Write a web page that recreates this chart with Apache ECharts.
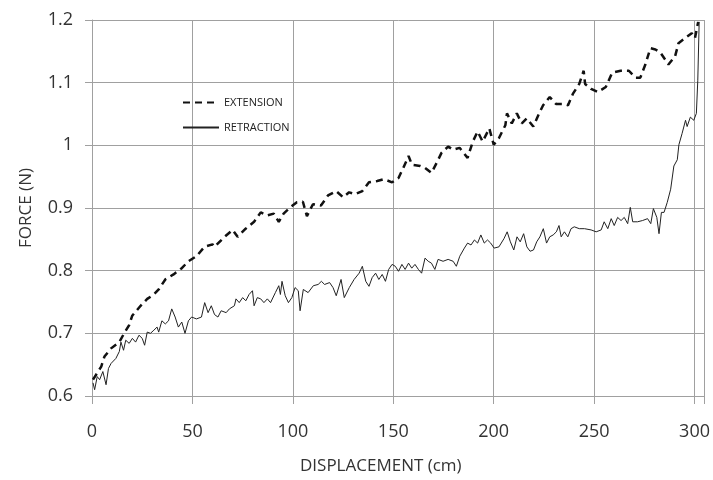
<!DOCTYPE html>
<html>
<head>
<meta charset="utf-8">
<script src="https://cdn.jsdelivr.net/npm/echarts@6/dist/echarts.min.js"></script>
<style>
  html, body { margin: 0; padding: 0; background: #fff; }
  #chart { width: 713px; height: 480px; }
</style>
</head>
<body>
<div id="chart"></div>
<script>
// extension (dashed) - displacement / force
const extX = [0.5, 4.6, 6.2, 9.5, 13.6, 16, 18.5, 20, 24.2, 27.5, 30.8, 33.2, 36.5, 40.6, 44.7, 48, 52, 56, 60,
  61, 66, 70, 72.5, 76.5, 80.7, 84, 87.2, 90.5, 93, 95.4, 98.7, 102, 105, 107, 110, 114, 117.5, 121.6,
  125, 128, 131, 134.6, 137.9, 142, 145.3, 149.4, 152.6, 155, 157.6, 159.3, 163.4, 165.8, 169, 171.6, 174, 177.3, 179.8, 183,
  187, 189.6, 192, 194.5, 197.8, 200, 202.5, 205.8, 206.6, 209, 211.5, 214, 216.5, 219.7, 222.2, 224.6, 227.9, 231, 234.5, 237, 239.4, 242.6, 244.8,
  245.5, 248.5, 251.8, 255.8, 259, 263.2, 267.3, 270.5, 273, 275.5, 278, 280.5, 283, 287, 290.3, 292, 295.3, 298.6, 300.2, 301.8];
const extY = [0.626, 0.647, 0.663, 0.676, 0.686, 0.700, 0.713, 0.728, 0.744, 0.755, 0.762, 0.770, 0.786, 0.794, 0.804, 0.815, 0.823, 0.838, 0.842,
  0.838, 0.854, 0.865, 0.854, 0.867, 0.878, 0.893, 0.888, 0.891, 0.878, 0.891, 0.901, 0.909, 0.910, 0.887, 0.906, 0.904, 0.920, 0.927,
  0.917, 0.925, 0.922, 0.927, 0.941, 0.943, 0.946, 0.941, 0.948, 0.964, 0.983, 0.969, 0.967, 0.964, 0.956, 0.972, 0.988, 0.998, 0.993, 0.996,
  0.980, 1.006, 1.022, 1.006, 1.027, 1.001, 1.011, 1.032, 1.051, 1.035, 1.051, 1.035, 1.043, 1.030, 1.048, 1.064, 1.077, 1.066, 1.066, 1.064, 1.082, 1.098, 1.119,
  1.098, 1.090, 1.085, 1.093, 1.116, 1.119, 1.119, 1.108, 1.108, 1.129, 1.155, 1.153, 1.148, 1.129, 1.142, 1.163, 1.171, 1.179, 1.171, 1.197];

// retraction (solid)
const retX = [0.5, 1.3, 2.6, 3.8, 5.4, 7, 8.2, 9.5, 11.9, 13.6, 14.4, 15.7, 16.8, 18.5, 20.1, 21.7, 23.4, 25, 26.2, 27.5, 29.1, 30.8, 32.4, 33.2, 34.8, 36.5, 38.1, 39.7, 41.4, 43, 44.7, 46.3, 48, 49.6, 52, 54.5, 56.1, 57.8, 59.4,
  61, 62.7, 64.3, 66.8, 68.4, 70.9, 71.7, 73.3, 75, 76.6, 78.2, 79.9, 80.7, 82.3, 84, 85.6, 87.3, 88.9, 91.3, 93, 93.8, 94.6, 96.2, 97.8, 99.5, 101.1, 102.7, 103.6, 105.2, 107.6, 110.2, 112.6, 114.2, 115.8, 118.3, 120, 121.6,
  124, 125.6, 128.1, 130.5, 133, 134.6, 136.3, 137.9, 139.5, 141.2, 142.8, 144.5, 146.1, 147.7, 149.4, 151, 152.6, 154.3, 155.9, 157.6, 159.2, 160.8, 162.5, 164.1, 165.8, 167.4, 169, 170.7, 172.3, 174.8, 177.3, 179.8, 181.4, 183.1,
  185.4, 187, 188.7, 190.4, 192, 193.6, 195.3, 196.9, 198.5, 200.2, 202.6, 205.1, 206.7, 208.3, 210, 211.6, 213.2, 214.9, 216.5, 218.1, 219.8, 221.4, 223, 224.7, 226.3, 227.9, 229.6, 231.2, 232.5, 233.6, 235.2, 236.9, 238.5, 240.1, 242.6,
  245.2, 248.5, 251, 253.5, 255, 256.8, 258.5, 260, 261.7, 263.4, 265, 266.7, 268, 269.2, 271.6, 274.1, 276.6, 278.2, 279.5, 281.2, 282.3, 283.5, 284.8, 286.4, 288.1, 289.7, 291.4, 292.2, 293.8, 295.5, 296.3, 297.9, 299.6, 300.9, 301.6, 302.3];
const retY = [0.621, 0.610, 0.631, 0.626, 0.639, 0.618, 0.644, 0.652, 0.660, 0.671, 0.686, 0.673, 0.689, 0.684, 0.692, 0.686, 0.697, 0.692, 0.681, 0.702, 0.700, 0.705, 0.710, 0.702, 0.720, 0.715, 0.720, 0.739, 0.726, 0.710, 0.718, 0.700, 0.720, 0.726, 0.723, 0.726, 0.749, 0.733, 0.744,
  0.730, 0.726, 0.736, 0.733, 0.739, 0.744, 0.755, 0.749, 0.757, 0.752, 0.762, 0.768, 0.744, 0.757, 0.755, 0.749, 0.755, 0.749, 0.765, 0.776, 0.762, 0.783, 0.760, 0.749, 0.757, 0.773, 0.768, 0.736, 0.770, 0.765, 0.776, 0.778, 0.783, 0.778, 0.781, 0.773, 0.760,
  0.786, 0.757, 0.773, 0.786, 0.796, 0.807, 0.783, 0.775, 0.789, 0.796, 0.786, 0.794, 0.783, 0.802, 0.810, 0.807, 0.799, 0.810, 0.802, 0.812, 0.804, 0.810, 0.802, 0.796, 0.820, 0.815, 0.812, 0.802, 0.818, 0.815, 0.818, 0.815, 0.807, 0.823,
  0.836, 0.844, 0.841, 0.849, 0.844, 0.857, 0.844, 0.849, 0.844, 0.836, 0.838, 0.851, 0.862, 0.846, 0.833, 0.854, 0.846, 0.859, 0.838, 0.831, 0.833, 0.846, 0.854, 0.867, 0.844, 0.854, 0.857, 0.862, 0.872, 0.854, 0.862, 0.854, 0.867, 0.870, 0.867,
  0.867, 0.865, 0.862, 0.865, 0.878, 0.867, 0.883, 0.872, 0.885, 0.880, 0.885, 0.875, 0.901, 0.878, 0.878, 0.880, 0.883, 0.875, 0.899, 0.885, 0.859, 0.893, 0.893, 0.909, 0.930, 0.967, 0.977, 1.001, 1.019, 1.040, 1.030, 1.045, 1.040, 1.051, 1.103, 1.197];

const xTicks = [0, 50, 100, 150, 200, 250, 300];

const pairs = (xs, ys) => xs.map((x, i) => [x, ys[i]]);

const chart = echarts.init(document.getElementById('chart'));
const font = '"Open Sans", sans-serif';

chart.setOption({
    animation: false,
    backgroundColor: '#fff',
    grid: { left: 92, right: 0, top: 20, bottom: 78 },
    legend: {
        orient: 'vertical',
        left: 182,
        top: 97,
        padding: 0,
        itemWidth: 36,
        itemHeight: 12,
        itemGap: 14,
        itemStyle: { opacity: 0, borderWidth: 0 },
        textStyle: { fontFamily: font, fontSize: 11, color: '#222' },
        data: ['EXTENSION', 'RETRACTION']
    },
    xAxis: {
        type: 'value',
        min: 0,
        max: 305,
        interval: 50,
        name: 'DISPLACEMENT (cm)',
        nameLocation: 'middle',
        nameGap: 62,
        nameTextStyle: { fontFamily: font, fontSize: 17, color: '#333', padding: [0, 35, 0, 0] },
        axisLine: { show: true, lineStyle: { color: '#a0a0a0' } },
        axisTick: { show: true, length: 8, lineStyle: { color: '#a0a0a0' } },
        axisLabel: {
            fontFamily: font, fontSize: 18, color: '#333', margin: 27,
            formatter: v => xTicks.includes(v) ? String(v) : ''
        },
        splitLine: { show: true, lineStyle: { color: '#a0a0a0', width: 1 } }
    },
    yAxis: {
        type: 'value',
        min: 0.6,
        max: 1.2,
        interval: 0.1,
        name: 'FORCE (N)',
        nameLocation: 'middle',
        nameGap: 57,
        nameTextStyle: { fontFamily: font, fontSize: 17, color: '#333' },
        axisLine: { show: true, lineStyle: { color: '#a0a0a0' } },
        axisTick: { show: true, length: 7, lineStyle: { color: '#a0a0a0' } },
        axisLabel: { fontFamily: font, fontSize: 18, color: '#333', margin: 19 },
        splitLine: { show: true, lineStyle: { color: '#a0a0a0', width: 1 } }
    },
    series: [
        {
            name: 'EXTENSION',
            type: 'line',
            data: pairs(extX, extY),
            symbol: 'none',
            lineStyle: { color: '#111', width: 2.5, type: [7, 5] },
            itemStyle: { color: '#111' }
        },
        {
            name: 'RETRACTION',
            type: 'line',
            data: pairs(retX, retY),
            symbol: 'none',
            lineStyle: { color: '#222', width: 1 },
            itemStyle: { color: '#222' }
        }
    ]
});
</script>
</body>
</html>
